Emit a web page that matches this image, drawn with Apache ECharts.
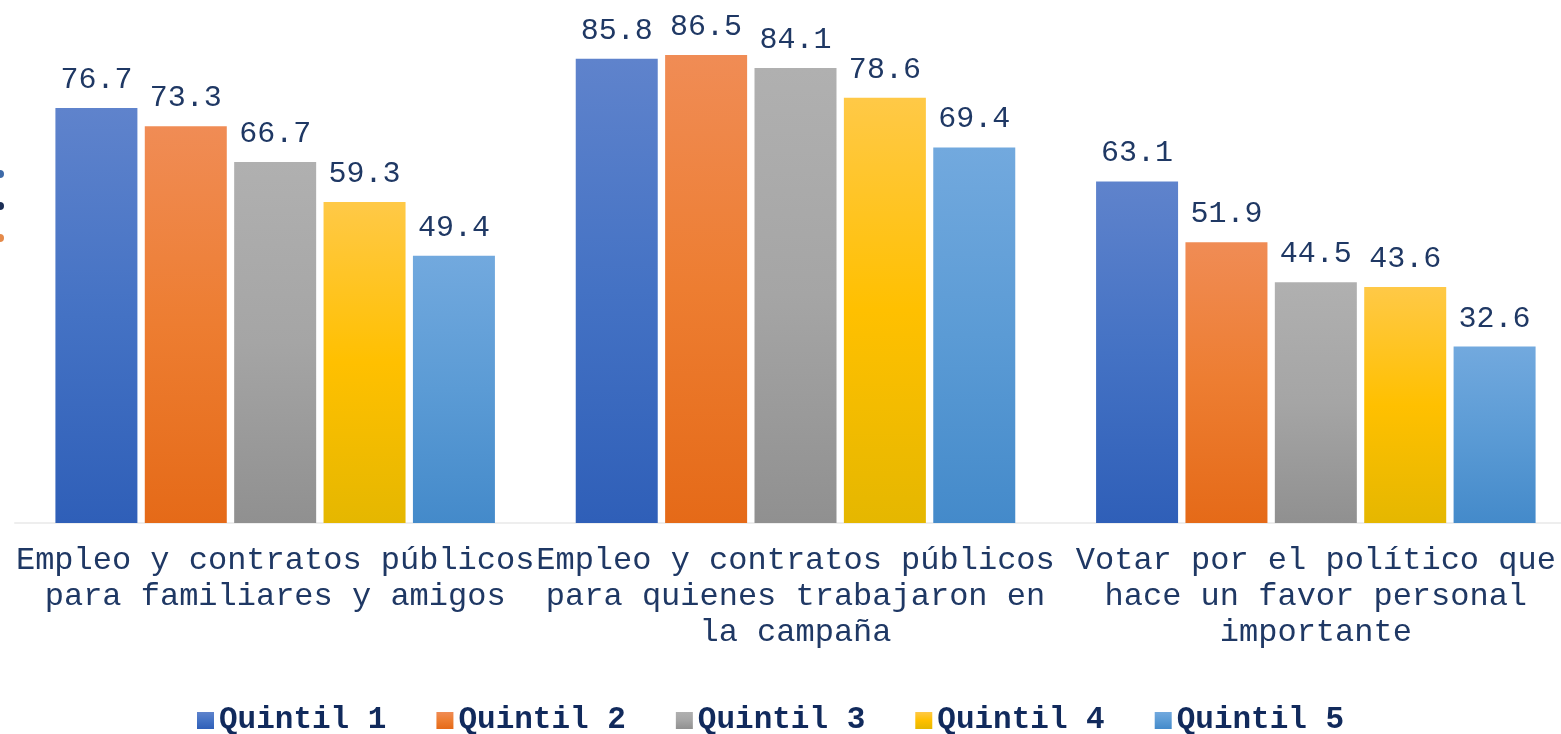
<!DOCTYPE html>
<html>
<head>
<meta charset="utf-8">
<script src="https://cdn.jsdelivr.net/npm/echarts@6/dist/echarts.min.js"></script>
<style>
  html, body { margin: 0; padding: 0; background: #fff; overflow: hidden; }
  #chart { width: 1600px; height: 734px; }
</style>
</head>
<body>
<div id="chart"></div>
<script>
// categorias del eje x
const categories = [
  'Empleo y contratos públicos\npara familiares y amigos',
  'Empleo y contratos públicos\npara quienes trabajaron en\nla campaña',
  'Votar por el político que\nhace un favor personal\nimportante',
];
const seriesNames = ['Quintil 1', 'Quintil 2', 'Quintil 3', 'Quintil 4', 'Quintil 5'];
const quintil1 = [76.7, 85.8, 63.1];
const quintil2 = [73.3, 86.5, 51.9];
const quintil3 = [66.7, 84.1, 44.5];
const quintil4 = [59.3, 78.6, 43.6];
const quintil5 = [49.4, 69.4, 32.6];

// degradados tipo Office: claro arriba, base al medio, oscuro abajo
const gradients = [
  ['#5f83cc', '#4472c4', '#2f5fb8'],
  ['#f08c55', '#ed7d31', '#e56a18'],
  ['#b0b0b0', '#a5a5a5', '#909090'],
  ['#ffc947', '#ffc000', '#e5b700'],
  ['#72a9de', '#5b9bd5', '#448aca'],
];
const textColor = '#1f3864';
const font = '"Liberation Mono", "Courier New", monospace';

function grad(c) {
  return new echarts.graphic.LinearGradient(0, 0, 0, 1, [
    { offset: 0, color: c[0] },
    { offset: 0.5, color: c[1] },
    { offset: 1, color: c[2] },
  ]);
}

const allData = [quintil1, quintil2, quintil3, quintil4, quintil5];

const myChart = echarts.init(document.getElementById('chart'));
myChart.setOption({
  animation: false,
  grid: { left: 15, width: 1561, top: 36, bottom: 211, containLabel: false },
  legend: {
    top: 700,
    left: 192,
    itemWidth: 17,
    itemHeight: 17,
    itemGap: 50,
    textStyle: { fontFamily: font, fontWeight: 'bold', fontSize: 31, color: '#112a5c' },
    data: seriesNames.map((n, i) => ({ name: n, icon: 'rect', itemStyle: { color: grad(gradients[i]) } })),
  },
  xAxis: {
    type: 'category',
    data: categories,
    axisLine: { lineStyle: { color: '#eeeeee', width: 2 } },
    axisTick: { show: false },
    axisLabel: {
      interval: 0,
      margin: 20,
      fontFamily: font,
      fontSize: 32,
      lineHeight: 36,
      color: textColor,
      align: 'center',
    },
  },
  yAxis: {
    type: 'value',
    min: 0,
    max: 90,
    show: false,
    splitLine: { show: false },
  },
  series: allData.map((d, i) => ({
    name: seriesNames[i],
    type: 'bar',
    data: d,
    barWidth: 82,
    barGap: '9%',
    itemStyle: { color: grad(gradients[i]) },
    label: {
      show: true,
      position: 'top',
      distance: 13,
      fontFamily: font,
      fontSize: 30,
      color: textColor,
      formatter: (p) => p.value.toFixed(1),
    },
  })),
  graphic: [
    { type: 'circle', shape: { cx: 0, cy: 174, r: 4 }, style: { fill: '#3d6aa8' } },
    { type: 'circle', shape: { cx: 0, cy: 206, r: 4 }, style: { fill: '#1b2e55' } },
    { type: 'circle', shape: { cx: 0, cy: 238, r: 4 }, style: { fill: '#e58a4a' } },
  ],
});
</script>
</body>
</html>
